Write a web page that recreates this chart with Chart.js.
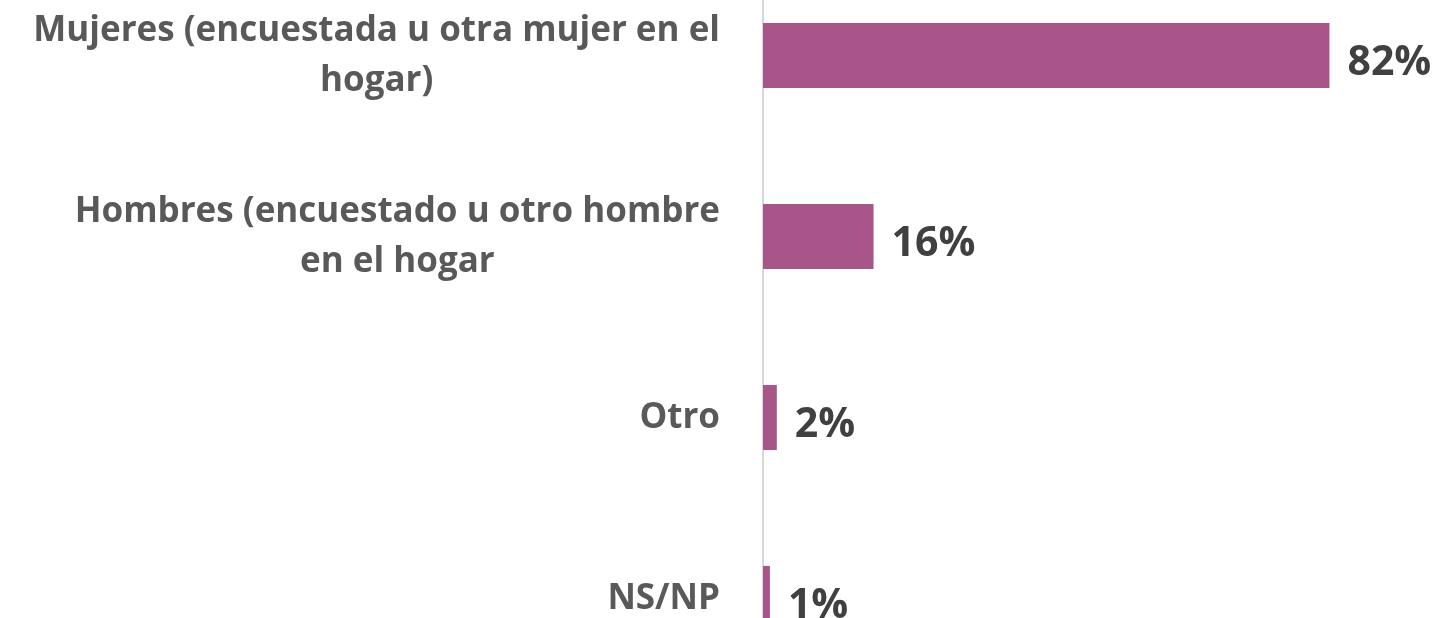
<!DOCTYPE html>
<html>
<head>
<meta charset="utf-8">
<script src="https://cdn.jsdelivr.net/npm/chart.js@4"></script>
<style>
    html, body { margin: 0; padding: 0; background: #fff; overflow: hidden; }
    #wrap { position: absolute; left: 0; top: -35px; width: 1440px; height: 724px; }
</style>
</head>
<body>
<div id="wrap"><canvas id="chart"></canvas></div>
<script>
const categories = [
    ['Mujeres (encuestada u otra mujer en el', 'hogar)'],
    ['Hombres (encuestado u otro hombre', 'en el hogar'],
    'Otro',
    'NS/NP'
];
const values = [82, 16, 2, 1];
const valueLabels = ['82%', '16%', '2%', '1%'];

// category labels: block right-aligned to the axis, lines centred inside the block
const categoryLabels = {
    id: 'categoryLabels',
    afterDraw(chart) {
        const ctx = chart.ctx;
        const yScale = chart.scales.y;
        const lineH = 50;
        ctx.save();
        ctx.font = 'bold 35px "Open Sans"';
        ctx.fillStyle = '#595959';
        ctx.textAlign = 'center';
        ctx.textBaseline = 'middle';
        categories.forEach((label, i) => {
            const lines = Array.isArray(label) ? label : [label];
            const widest = Math.max(...lines.map(l => ctx.measureText(l).width));
            const cx = yScale.right - 43 - widest / 2;
            const y0 = yScale.getPixelForTick(i) + 1 - (lines.length - 1) * lineH / 2;
            lines.forEach((l, j) => ctx.fillText(l, cx, y0 + j * lineH));
        });
        ctx.restore();
    }
};

const barLabels = {
    id: 'barLabels',
    afterDatasetsDraw(chart) {
        const ctx = chart.ctx;
        const meta = chart.getDatasetMeta(0);
        ctx.save();
        ctx.font = 'bold 41px "Open Sans"';
        ctx.fillStyle = '#404040';
        ctx.textAlign = 'left';
        ctx.textBaseline = 'middle';
        meta.data.forEach((bar, i) => {
            ctx.fillText(valueLabels[i], bar.x + 18, bar.y + 8);
        });
        ctx.restore();
    }
};

new Chart(document.getElementById('chart'), {
    type: 'bar',
    data: {
        labels: categories,
        datasets: [{
            data: values,
            backgroundColor: '#a8558a',
            barPercentage: 0.36,
            categoryPercentage: 1
        }]
    },
    options: {
        indexAxis: 'y',
        responsive: true,
        maintainAspectRatio: false,
        animation: false,
        layout: { padding: 0 },
        plugins: { legend: { display: false }, tooltip: { enabled: false } },
        scales: {
            x: { display: false, min: 0, max: 98 },
            y: {
                grid: { display: false, drawTicks: false },
                border: { display: true, color: '#d9d9d9', width: 2 },
                ticks: { display: false },
                afterFit(scale) {
                    scale.width = 763;
                    scale.paddingTop = 0;
                    scale.paddingBottom = 0;
                }
            }
        }
    },
    plugins: [barLabels, categoryLabels]
});
</script>
</body>
</html>
